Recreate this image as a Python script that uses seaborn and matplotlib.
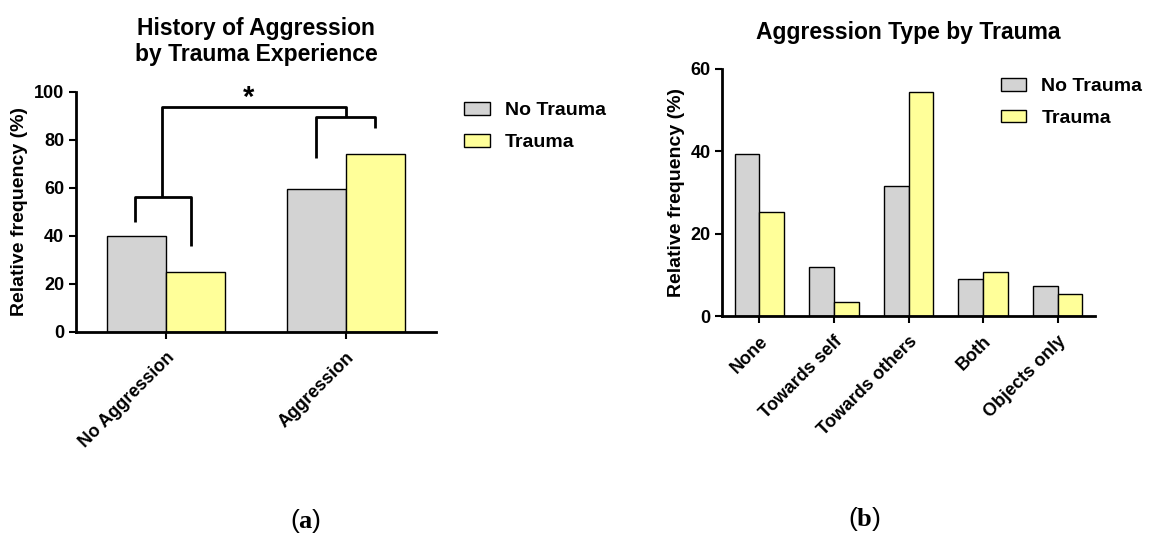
import pandas as pd
import seaborn as sns
import matplotlib.pyplot as plt

# Data
groups = ["No Trauma", "Trauma"]
history_cats = ["No Aggression", "Aggression"]
history_no_trauma = [40.0, 59.5]
history_trauma = [25.0, 74.0]

type_cats = ["None", "Towards self", "Towards others", "Both", "Objects only"]
type_no_trauma = [39.2, 11.9, 31.6, 8.9, 7.3]
type_trauma = [25.2, 3.3, 54.3, 10.7, 5.3]

colors = {"No Trauma": "#D3D3D3", "Trauma": "#FFFF99"}


def long_df(cats, a, b):
    return pd.DataFrame({
        "cat": cats * 2,
        "group": ["No Trauma"] * len(cats) + ["Trauma"] * len(cats),
        "value": a + b,
    })


sns.set_style("ticks")
plt.rcParams['font.family'] = ['Liberation Sans', 'DejaVu Sans']
plt.rcParams['font.weight'] = 'bold'
for k in ['text.color', 'axes.labelcolor', 'xtick.color', 'ytick.color',
          'axes.edgecolor']:
    plt.rcParams[k] = 'black'
plt.rcParams['mathtext.fontset'] = 'custom'
plt.rcParams['mathtext.rm'] = 'Liberation Serif'
plt.rcParams['mathtext.bf'] = 'Liberation Serif:bold'

fig = plt.figure(figsize=(11.5, 5.38), dpi=100)
ax1 = fig.add_axes([0.0661, 0.383, 0.313, 0.446])
ax2 = fig.add_axes([0.628, 0.4126, 0.324, 0.460])

df1 = long_df(history_cats, history_no_trauma, history_trauma)
df2 = long_df(type_cats, type_no_trauma, type_trauma)

for ax, df, cats in [(ax1, df1, history_cats), (ax2, df2, type_cats)]:
    sns.barplot(data=df, x="cat", y="value", hue="group", order=cats,
                hue_order=groups, palette=colors, saturation=1,
                edgecolor="black", linewidth=1, width=0.66, gap=0, ax=ax,
                legend=False)
    ax.set_xlim(-0.5, len(cats) - 0.5)
    ax.set_xlabel("")
    ax.set_ylabel("Relative frequency (%)", fontsize=14, fontweight="bold")
    sns.despine(ax=ax)
    for s in ["left", "bottom"]:
        ax.spines[s].set_linewidth(2)
    ax.tick_params(width=1.5, length=5, labelsize=13)
    ax.tick_params(axis="x", pad=7)
    ax.set_xticks(range(len(cats)))
    ax.set_xticklabels(cats, rotation=45, ha="right", rotation_mode="anchor",
                       fontweight="bold")
    for lab in ax.get_yticklabels():
        lab.set_fontweight("bold")
    handles = [plt.Rectangle((0, 0), 1, 1, facecolor=colors[g],
                             edgecolor="black", linewidth=1) for g in groups]
    ax.legend(handles, groups, frameon=False,
              handlelength=1.3, handleheight=0.62, labelspacing=0.75,
              handletextpad=0.8, loc="upper left",
              prop={"weight": "bold", "size": 14})

ax1.set_ylim(0, 100)
ax1.set_yticks([0, 20, 40, 60, 80, 100])
ax1.set_title("History of Aggression\nby Trauma Experience",
              fontsize=16.5, fontweight="bold", pad=22)
ax1.get_legend().set_bbox_to_anchor((1.03, 1.03))

ax2.set_ylim(0, 60)
ax2.set_yticks([0, 20, 40, 60])
ax2.set_title("Aggression Type by Trauma", fontsize=16.5, fontweight="bold",
              pad=21)
ax2.get_legend().set_bbox_to_anchor((0.7, 1.032))

# significance brackets
lk = dict(color="black", lw=2, clip_on=False, solid_capstyle="butt")
ax1.plot([-0.173, -0.173, 0.14, 0.14], [46, 56.4, 56.4, 36], **lk)
ax1.plot([0.832, 0.832, 1.162, 1.162], [72.4, 89.7, 89.7, 85], **lk)
ax1.plot([-0.022, -0.022, 1.0, 1.0], [56.4, 93.9, 93.9, 89.7], **lk)
ax1.text(0.46, 97.5, "*", ha="center", va="center", fontsize=21,
         fontweight="bold")

fig.text(0.266, 0.018, r"($\mathbf{a}$)", ha="center", fontsize=19,
         fontweight="normal")
fig.text(0.752, 0.022, r"($\mathbf{b}$)", ha="center", fontsize=19,
         fontweight="normal")

fig.savefig("out.png", dpi=100)
